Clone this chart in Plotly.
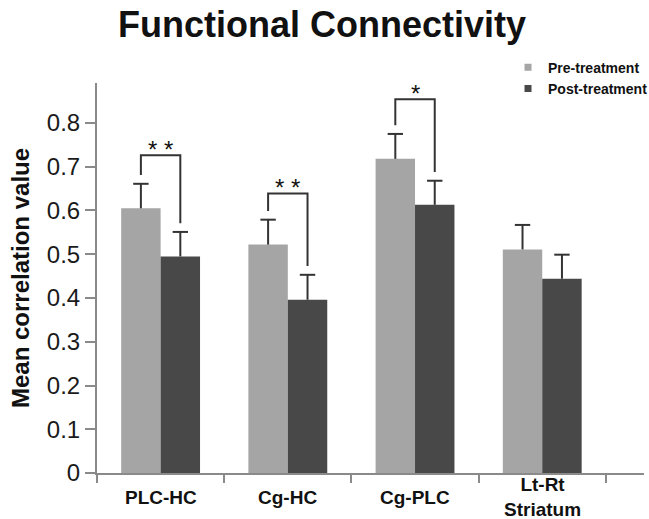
import plotly.graph_objects as go

# ---- data ----
categories = ["PLC-HC", "Cg-HC", "Cg-PLC", "Lt-Rt<br>Striatum"]
pre_values = [0.605, 0.522, 0.718, 0.511]
post_values = [0.495, 0.396, 0.613, 0.444]
pre_errors = [0.056, 0.057, 0.057, 0.056]
post_errors = [0.056, 0.057, 0.055, 0.055]
series_names = ["Pre-treatment", "Post-treatment"]
y_ticks = [0, 0.1, 0.2, 0.3, 0.4, 0.5, 0.6, 0.7, 0.8]
y_tick_labels = ["0", "0.1", "0.2", "0.3", "0.4", "0.5", "0.6", "0.7", "0.8"]
sig_category_index = [0, 1, 2]
sig_labels = ["* *", "* *", "*"]
sig_bracket_level = [0.726, 0.639, 0.854]

PRE_COLOR = "#a5a5a5"
POST_COLOR = "#484848"
AXIS_COLOR = "#8a8a8a"
INK = "#333333"
FONT = "Liberation Sans, Arial, sans-serif"

BARGAP = 0.38
HALF_OFFSET = (1 - BARGAP) / 4  # centre offset of each bar within its group
LEG_GAP = 0.02

x_pos = list(range(len(categories)))
boundaries = [i + 0.5 for i in range(-1, len(categories))]

fig = go.Figure()
for idx, (name, vals, errs, color) in enumerate([
    (series_names[0], pre_values, pre_errors, PRE_COLOR),
    (series_names[1], post_values, post_errors, POST_COLOR),
]):
    fig.add_trace(go.Bar(
        x=x_pos, y=vals, name=name, marker=dict(color=color, line=dict(width=0)),
        error_y=dict(type="data", array=errs, arrayminus=[0] * len(errs), symmetric=False,
                     color=INK, thickness=2, width=0),
        showlegend=False,
    ))
    # caps of the error bars
    sign = -1 if idx == 0 else 1
    fig.add_trace(go.Scatter(
        x=[x + sign * HALF_OFFSET for x in x_pos],
        y=[v + e for v, e in zip(vals, errs)],
        mode="markers", showlegend=False, hoverinfo="skip", cliponaxis=False,
        marker=dict(symbol="line-ew", size=11, line=dict(width=2, color=INK)),
    ))
    # legend entry with a small square symbol
    fig.add_trace(go.Scatter(
        x=[None], y=[None], mode="markers", name=name,
        marker=dict(symbol="square", size=7, color=color),
    ))

# significance brackets
for k, ci in enumerate(sig_category_index):
    x_left = ci - HALF_OFFSET
    x_right = ci + HALF_OFFSET
    y_top = sig_bracket_level[k]
    y_left = pre_values[ci] + pre_errors[ci] + LEG_GAP
    y_right = post_values[ci] + post_errors[ci] + LEG_GAP
    fig.add_shape(type="path", xref="x", yref="y",
                  path=f"M {x_left} {y_left} L {x_left} {y_top} L {x_right} {y_top} L {x_right} {y_right}",
                  line=dict(color=INK, width=2))
    fig.add_annotation(x=ci, y=y_top, xref="x", yref="y", text=sig_labels[k],
                       showarrow=False, yanchor="middle", yshift=6,
                       font=dict(family=FONT, size=24, color="#111111"))

# x category labels (vertically centred like the original)
for i, cat in enumerate(categories):
    fig.add_annotation(x=x_pos[i], y=0, xref="x", yref="paper", text=cat, showarrow=False,
                       yanchor="middle", yshift=-24,
                       font=dict(family=FONT, size=19, color="#111111", weight="bold"))

fig.update_layout(
    width=649, height=519,
    margin=dict(l=97, r=5, t=83, b=46, autoexpand=False),
    paper_bgcolor="white", plot_bgcolor="white",
    barmode="group", bargap=BARGAP, bargroupgap=0,
    title=dict(text="Functional Connectivity", x=322 / 649, xanchor="center",
               y=1 - 24 / 519, yanchor="middle", yref="container",
               font=dict(family=FONT, size=36, color="#111111", weight="bold")),
    legend=dict(x=0.7514, y=1.0805, xanchor="left", yanchor="top",
                font=dict(family=FONT, size=14, color="#111111", weight="bold"),
                itemwidth=30, tracegroupgap=0, bgcolor="rgba(0,0,0,0)"),
    xaxis=dict(type="linear", range=[-0.5, 3.8], showticklabels=False,
               tickvals=boundaries,
               ticks="outside", ticklen=8, tickwidth=2, tickcolor=AXIS_COLOR,
               showline=True, linecolor=AXIS_COLOR, linewidth=2, showgrid=False,
               zeroline=False, automargin=False, fixedrange=True),
    yaxis=dict(range=[0, 0.8914], tickvals=y_ticks, ticktext=y_tick_labels,
               ticks="outside", ticklen=10, tickwidth=2, tickcolor=AXIS_COLOR,
               tickfont=dict(family=FONT, size=24, color="#1a1a1a"),
               showline=True, linecolor=AXIS_COLOR, linewidth=2, showgrid=False,
               zeroline=False, automargin=False,
               title=dict(text="Mean correlation value", standoff=10,
                          font=dict(family=FONT, size=24, color="#111111", weight="bold"))),
)

fig.write_html("out.html", config={"displayModeBar": False},
               post_script="document.body.style.margin='0';")
